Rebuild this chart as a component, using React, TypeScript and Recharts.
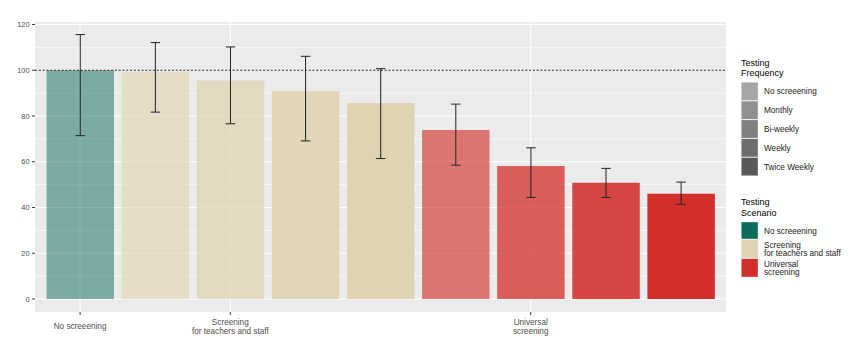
import React from "react";
import { BarChart, Bar, XAxis, YAxis, CartesianGrid, ReferenceLine, ErrorBar, Cell } from "recharts";

// one entry per bar, left to right
const barPositions = [1, 2, 3, 4, 5, 6, 7, 8, 9];
const barScenario = [0, 1, 1, 1, 1, 2, 2, 2, 2];
const barFrequency = [0, 1, 2, 3, 4, 1, 2, 3, 4];
const meanValues = [100, 99.4, 95.5, 90.8, 85.7, 73.9, 58.1, 50.8, 46.0];
const lowerValues = [71.4, 81.7, 76.6, 69.1, 61.4, 58.5, 44.4, 44.4, 41.4];
const upperValues = [115.6, 112.1, 110.2, 106.1, 100.7, 85.2, 66.1, 57.1, 51.1];

const xBreaks = [1, 3, 7];
const xBreakLabels = [["No screeening"], ["Screening", "for teachers and staff"], ["Universal", "screening"]];
const yTicks = [0, 20, 40, 60, 80, 100, 120];
const yMinorTicks = [10, 30, 50, 70, 90, 110];
const baselineValue = 100;

const frequencyLabels = ["No screeening", "Monthly", "Bi-weekly", "Weekly", "Twice Weekly"];
const frequencyAlpha = [0.5, 0.63, 0.75, 0.88, 1];
const scenarioLabels = [["No screeening"], ["Screening", "for teachers and staff"], ["Universal", "screening"]];
const scenarioColors = ["#0c6c5c", "#dfd3b1", "#d22f2a"];

const FONT = "'Liberation Sans', Arial, sans-serif";

const data = barPositions.map((pos, i) => ({
  pos,
  mean: meanValues[i],
  err: [meanValues[i] - lowerValues[i], upperValues[i] - meanValues[i]],
}));

function XTick(props: any) {
  const { x, y, payload } = props;
  const idx = xBreaks.indexOf(payload.value);
  if (idx < 0) return <g />;
  const lines = xBreakLabels[idx];
  const offsets = lines.length === 1 ? [13.8] : [9.6, 18.6];
  return (
    <text x={x} textAnchor="middle" fontSize={8.2} fill="#4d4d4d" fontFamily={FONT}>
      {lines.map((l, j) => (
        <tspan key={j} x={x} y={y + offsets[j]}>
          {l}
        </tspan>
      ))}
    </text>
  );
}

function Legends() {
  const x0 = 741;
  const keyW = 17.3;
  const freqTop = 82;
  const freqH = 18.8;
  const scenHeights = [17.6, 19, 19];
  let sy = 221.7;
  const scenRows = scenarioLabels.map((lines, i) => {
    const row = { y: sy, h: scenHeights[i], lines };
    sy += scenHeights[i];
    return row;
  });
  return (
    <svg width={850} height={351} style={{ position: "absolute", left: 0, top: 0, pointerEvents: "none" }}>
      <g fontFamily={FONT}>
        <text x={x0} y={65.5} fontSize={9} fill="#000">Testing</text>
        <text x={x0} y={76} fontSize={9} fill="#000">Frequency</text>
        {frequencyLabels.map((lab, i) => {
          const y = freqTop + i * freqH;
          return (
            <g key={lab}>
              <rect x={x0} y={y} width={keyW} height={freqH} fill="#f2f2f2" />
              <rect x={x0 + 0.5} y={y + 0.5} width={keyW - 1} height={freqH - 1} fill="#595959" fillOpacity={frequencyAlpha[i]} />
              <text x={764} y={y + freqH / 2 + 3} fontSize={8.2} fill="#1a1a1a">{lab}</text>
            </g>
          );
        })}
        <text x={x0} y={204.8} fontSize={9} fill="#000">Testing</text>
        <text x={x0} y={215.5} fontSize={9} fill="#000">Scenario</text>
        {scenRows.map((r, i) => (
          <g key={i}>
            <rect x={x0} y={r.y} width={keyW} height={r.h} fill="#f2f2f2" />
            <rect x={x0 + 0.5} y={r.y + 0.5} width={keyW - 1} height={r.h - 1} fill={scenarioColors[i]} />
            {r.lines.map((l, j) => (
              <text key={j} x={764} y={r.y + r.h / 2 + 3 + (r.lines.length === 1 ? 0 : (j - 0.5) * 8.6)} fontSize={8.2} fill="#1a1a1a">
                {l}
              </text>
            ))}
          </g>
        ))}
      </g>
    </svg>
  );
}

export default function App() {
  return (
    <div style={{ position: "absolute", left: 0, top: 0, width: 850, height: 351, background: "#fff", fontFamily: FONT }}>
      <BarChart width={850} height={351} data={data} margin={{ top: 22, right: 124, bottom: 0, left: 0 }}>
        <CartesianGrid fill="#ebebeb" stroke="#fff" strokeWidth={0.6} horizontalValues={yMinorTicks} vertical={false} />
        <CartesianGrid stroke="#fff" strokeWidth={1.1} horizontalValues={yTicks} verticalValues={xBreaks} />
        <XAxis
          dataKey="pos"
          type="number"
          domain={[0.4, 9.6]}
          allowDataOverflow
          ticks={xBreaks}
          height={39}
          axisLine={false}
          tickLine={{ stroke: "#333" }}
          tickSize={3}
          tickMargin={0}
          tick={<XTick />}
          interval={0}
        />
        <YAxis
          type="number"
          domain={[-5.7, 121.1]}
          allowDataOverflow
          ticks={yTicks}
          width={35}
          axisLine={false}
          tickLine={{ stroke: "#333" }}
          tickSize={3}
          tickMargin={2.5}
          tick={{ fontSize: 7.4, fill: "#4d4d4d", fontFamily: FONT }}
        />
        <Bar dataKey="mean" barSize={67.5} isAnimationActive={false}>
          {data.map((d, i) => (
            <Cell key={d.pos} fill={scenarioColors[barScenario[i]]} fillOpacity={frequencyAlpha[barFrequency[i]]} />
          ))}
          <ErrorBar dataKey="err" direction="y" width={4.7} stroke="#222" strokeWidth={1} isAnimationActive={false} />
        </Bar>
        <ReferenceLine y={baselineValue} stroke="#111" strokeWidth={0.9} strokeDasharray="2.2 1.6" />
      </BarChart>
      <Legends />
    </div>
  );
}
